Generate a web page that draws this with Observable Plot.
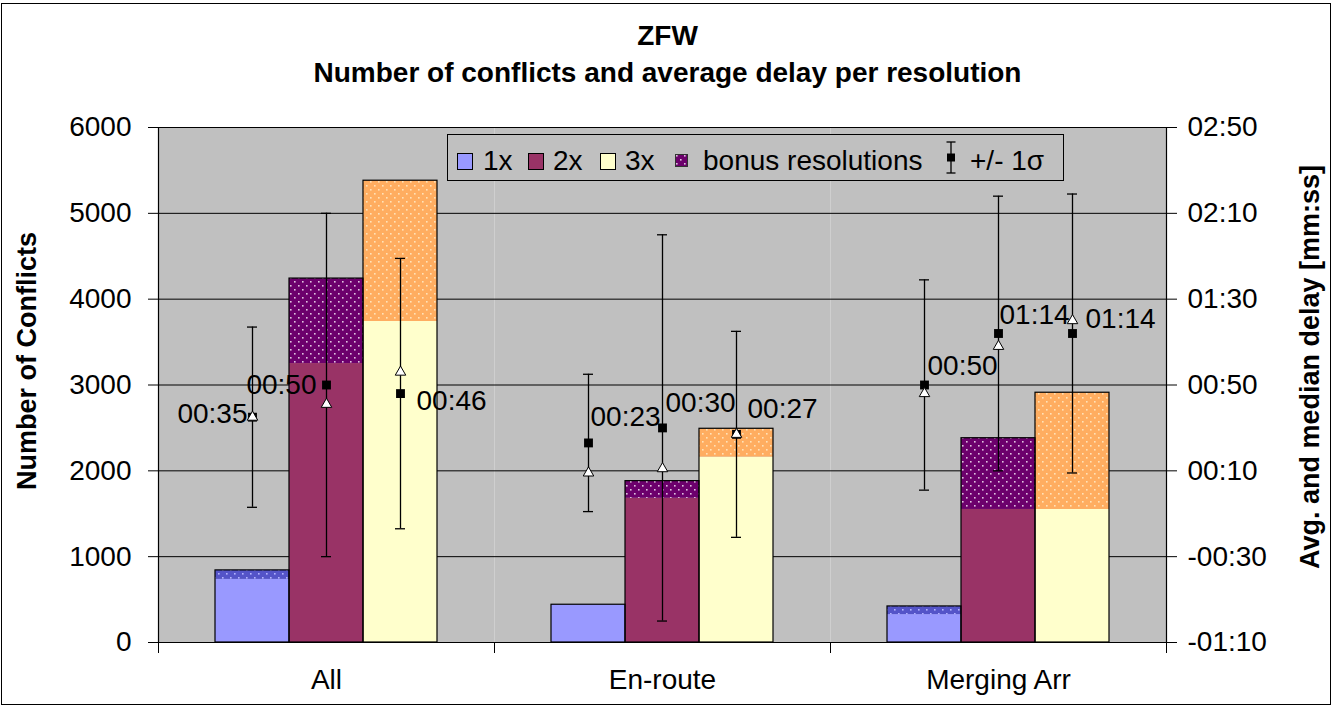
<!DOCTYPE html>
<html><head><meta charset="utf-8">
<script src="https://cdn.jsdelivr.net/npm/d3@7"></script>
<script src="https://cdn.jsdelivr.net/npm/@observablehq/plot@0.6"></script>
<style>
body{margin:0;background:#fff;font-family:"Liberation Sans",Arial,sans-serif;}
#wrap{position:relative;width:1335px;height:706px;overflow:hidden;}
.title{position:absolute;left:0;width:1335px;text-align:center;font-weight:bold;font-size:28px;line-height:28px;white-space:nowrap;}
.axt{position:absolute;white-space:nowrap;font-weight:bold;font-size:27px;line-height:27px;transform:translate(-50%,-50%) rotate(-90deg);}
#legend{position:absolute;left:447px;top:134px;width:617px;height:47px;box-sizing:border-box;border:1px solid #000;background:#C0C0C0;}
#legend svg{position:absolute;overflow:visible;}
#legend .lt{position:absolute;font-size:28px;line-height:28px;white-space:nowrap;}
#border{position:absolute;left:1px;top:3px;width:1330px;height:702px;box-sizing:border-box;border:1.5px solid #000;pointer-events:none;}
#chart{position:absolute;left:0;top:100px;}
</style></head>
<body>
<svg width="0" height="0" style="position:absolute">
  <defs>
    <pattern id="pb1" width="8" height="8" patternUnits="userSpaceOnUse">
      <rect width="8" height="8" fill="#5454C8"/>
      <rect x="1" y="1" width="1.6" height="1.6" fill="#B4B4FF"/>
      <rect x="5" y="5" width="1.6" height="1.6" fill="#B4B4FF"/>
    </pattern>
    <pattern id="pb2" width="8" height="8" patternUnits="userSpaceOnUse">
      <rect width="8" height="8" fill="#6C006C"/>
      <rect x="1" y="1" width="1.6" height="1.6" fill="#E0C4E0"/>
      <rect x="5" y="5" width="1.6" height="1.6" fill="#E0C4E0"/>
    </pattern>
    <pattern id="pb3" width="8" height="8" patternUnits="userSpaceOnUse">
      <rect width="8" height="8" fill="#FFAD60"/>
      <rect x="1" y="1" width="1.6" height="1.6" fill="#FFE2B8"/>
      <rect x="5" y="5" width="1.6" height="1.6" fill="#FFE2B8"/>
    </pattern>
  </defs>
</svg>
<div id="wrap">
  <div class="title" style="top:22px">ZFW</div>
  <div class="title" style="top:59px">Number of conflicts and average delay per resolution</div>
  <div id="chart"></div>
  <div class="axt" style="left:27px;top:361px">Number of Conflicts</div>
  <div class="axt" style="left:1310px;top:367px">Avg. and median delay [mm:ss]</div>
  <div id="legend">
    <svg style="left:9px;top:18px" width="16" height="17"><rect x="0.5" y="0.5" width="15" height="16" fill="#9999FF" stroke="#000"/></svg>
    <div class="lt" style="left:35px;top:12px">1x</div>
    <svg style="left:80px;top:18px" width="16" height="17"><rect x="0.5" y="0.5" width="15" height="16" fill="#993366" stroke="#000"/></svg>
    <div class="lt" style="left:105px;top:12px">2x</div>
    <svg style="left:152px;top:18px" width="16" height="17"><rect x="0.5" y="0.5" width="15" height="16" fill="#FFFFCC" stroke="#000"/></svg>
    <div class="lt" style="left:177px;top:12px">3x</div>
    <svg style="left:227px;top:19px" width="13" height="13"><rect x="0.5" y="0.5" width="12" height="12" fill="url(#pb2)" stroke="#333"/></svg>
    <div class="lt" style="left:255px;top:12px">bonus resolutions</div>
    <svg style="left:497px;top:6px" width="12" height="34">
      <line x1="6" y1="1" x2="6" y2="32" stroke="#000" stroke-width="1.3"/>
      <line x1="1.5" y1="1" x2="10.5" y2="1" stroke="#000" stroke-width="1.3"/>
      <line x1="1.5" y1="32" x2="10.5" y2="32" stroke="#000" stroke-width="1.3"/>
      <rect x="2" y="12.5" width="8" height="8" fill="#000"/>
    </svg>
    <div class="lt" style="left:522px;top:12px">+/- 1σ</div>
  </div>
  <div id="border"></div>
</div>
<script>
// ---- data ----
const groups = ["All", "En-route", "Merging Arr"];
const series = ["1x", "2x", "3x"];
// number of conflicts (solid part) and total incl. bonus resolutions
const base1x = [735, 440, 325];
const total1x = [840, 440, 420];
const base2x = [3250, 1680, 1550];
const total2x = [4240, 1880, 2380];
const base3x = [3740, 2160, 1550];
const total3x = [5380, 2490, 2910];
// delay in seconds: average, median, standard deviation
const mean1x = [35, 23, 50];
const median1x = [35, 9, 46];
const std1x = [42, 32, 49];
const mean2x = [50, 30, 74];
const median2x = [41, 11, 68];
const std2x = [80, 90, 64];
const mean3x = [46, 27, 74];
const median3x = [56, 27, 80];
const std3x = [63, 48, 65];
// axis ticks
const countTicks = [0, 1000, 2000, 3000, 4000, 5000, 6000];
const secTicks = [-70, -30, 10, 50, 90, 130, 170];

// ---- styling / layout ----
const baseFill = {"1x": "#9999FF", "2x": "#993366", "3x": "#FFFFCC"};
const bonusFill = {"1x": "url(#pb1)", "2x": "url(#pb2)", "3x": "url(#pb3)"};
const labelLayout = [
  {anchor: "end", dx: -5, dy: -3},
  {anchor: "end", dx: -10, dy: 0},
  {anchor: "start", dx: 16, dy: 7},
  {anchor: "start", dx: 2, dy: -26},
  {anchor: "start", dx: 3, dy: -25},
  {anchor: "start", dx: 11, dy: -25},
  {anchor: "start", dx: 3, dy: -19},
  {anchor: "start", dx: 1, dy: -18},
  {anchor: "start", dx: 13, dy: -14}
];

// secondary axis mapping: seconds <-> count scale
const secMin = secTicks[0], secMax = secTicks[secTicks.length - 1];
const countMax = countTicks[countTicks.length - 1];
const toCount = s => (s - secMin) / (secMax - secMin) * countMax;
const toSec = c => c / countMax * (secMax - secMin) + secMin;
function fmtTime(s) {
  const sign = s < 0 ? "-" : "";
  const a = Math.round(Math.abs(s));
  return sign + String(Math.floor(a / 60)).padStart(2, "0") + ":" + String(a % 60).padStart(2, "0");
}

const cols = {
  "1x": {base: base1x, total: total1x, mean: mean1x, median: median1x, std: std1x},
  "2x": {base: base2x, total: total2x, mean: mean2x, median: median2x, std: std2x},
  "3x": {base: base3x, total: total3x, mean: mean3x, median: median3x, std: std3x}
};
const rows = [];
groups.forEach((g, i) => series.forEach(s => {
  const c = cols[s];
  rows.push({group: g, series: s, base: c.base[i], total: c.total[i], mean: c.mean[i], median: c.median[i], std: c.std[i]});
}));

const W = 1335, H = 606;
const mt = 27, mb = 64, ml = 157, mr = 168;
const plotH = H - mt - mb;

const labels = rows.map((r, k) => Plot.text([r], {
  fx: "group", x: "series", y: d => toCount(d.mean), text: d => fmtTime(d.mean),
  textAnchor: labelLayout[k].anchor, dx: labelLayout[k].dx, dy: labelLayout[k].dy,
  fontSize: 28, fill: "#000"
}));

const chart = Plot.plot({
  width: W, height: H,
  marginTop: mt, marginBottom: mb, marginLeft: ml, marginRight: mr,
  style: {fontFamily: "'Liberation Sans', Arial, sans-serif", fontSize: "28px", background: "transparent", overflow: "visible", color: "#000"},
  fx: {domain: groups, padding: 0, label: null},
  x: {domain: series, paddingInner: 0, paddingOuter: 0.744, axis: null},
  y: {domain: [0, countMax], label: null},
  color: {type: "identity"},
  marks: [
    Plot.frame({fill: "#C0C0C0", stroke: "none"}),
    Plot.gridY(countTicks, {stroke: "#000", strokeOpacity: 1, strokeWidth: 1}),
    Plot.barY(rows, {fx: "group", x: "series", y1: 0, y2: "base", fill: d => baseFill[d.series]}),
    Plot.barY(rows, {fx: "group", x: "series", y1: "base", y2: "total", fill: d => bonusFill[d.series]}),
    Plot.barY(rows, {fx: "group", x: "series", y1: 0, y2: "total", fill: "none", stroke: "#000", strokeWidth: 1.2}),
    Plot.ruleY([0], {stroke: "#000", strokeWidth: 1.2}),
    Plot.frame({anchor: "left", facetAnchor: "left", stroke: "#000", strokeWidth: 1.2}),
    Plot.frame({anchor: "right", facetAnchor: "right", stroke: "#000", strokeWidth: 1.2}),
    Plot.frame({anchor: "left", insetTop: plotH, insetBottom: -10, stroke: "#000"}),
    Plot.frame({anchor: "right", insetTop: plotH, insetBottom: -10, stroke: "#000"}),
    Plot.ruleX(rows, {fx: "group", x: "series", y1: d => toCount(d.mean - d.std), y2: d => toCount(d.mean + d.std), stroke: "#000", strokeWidth: 1.3}),
    Plot.tickY(rows, {fx: "group", x: "series", y: d => toCount(d.mean - d.std), inset: 32, stroke: "#000", strokeWidth: 1.3}),
    Plot.tickY(rows, {fx: "group", x: "series", y: d => toCount(d.mean + d.std), inset: 32, stroke: "#000", strokeWidth: 1.3}),
    Plot.dot(rows, {fx: "group", x: "series", y: d => toCount(d.mean), symbol: "square", r: 5, fill: "#000", stroke: "none"}),
    Plot.dot(rows, {fx: "group", x: "series", y: d => toCount(d.median), symbol: "triangle", r: 3.9, fill: "#fff", stroke: "#000", strokeWidth: 1}),
    ...labels,
    Plot.axisY({ticks: countTicks, tickFormat: d => String(d), tickSize: 10, tickPadding: 17, fontSize: 28, label: null}),
    Plot.axisY({anchor: "right", ticks: countTicks, tickFormat: d => fmtTime(toSec(d)), tickSize: 10, tickPadding: 11, fontSize: 28, label: null}),
    Plot.axisFx({anchor: "bottom", tickSize: 0, tickPadding: 27, fontSize: 28, label: null})
  ]
});
document.getElementById("chart").append(chart);
</script>
</body></html>
